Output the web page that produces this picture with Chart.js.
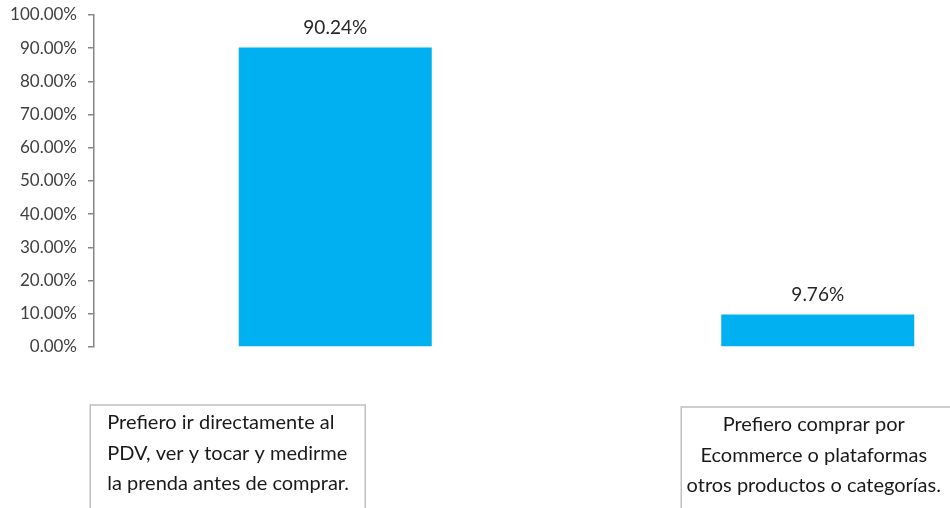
<!DOCTYPE html>
<html>
<head>
<meta charset="utf-8">
<script src="https://cdn.jsdelivr.net/npm/chart.js@4.4.0/dist/chart.umd.min.js"></script>
<style>
  html, body { margin: 0; padding: 0; background: #fff; }
  #wrap { width: 950px; height: 508px; overflow: hidden; position: relative; }
  #holder { width: 1070px; height: 508px; position: absolute; left: 0; top: 0; }
</style>
</head>
<body>
<div id="wrap"><div id="holder"><canvas id="myChart"></canvas></div></div>
<script>
// chart data
const categories = [
    ['Prefiero ir directamente al', 'PDV, ver y tocar y medirme', 'la prenda antes de comprar.'],
    ['Prefiero comprar por', 'Ecommerce o plataformas', 'otros productos o categorías.']
];
const shares = [0.9024, 0.0976];
const yTicks = [0, 0.1, 0.2, 0.3, 0.4, 0.5, 0.6, 0.7, 0.8, 0.9, 1.0];

const FONT = 'Lato, "Open Sans", sans-serif';

function pct(v) {
    return (v * 100).toFixed(2) + '%';
}

// value labels above each bar
const valueLabels = {
    id: 'valueLabels',
    afterDatasetsDraw(chart) {
        const ctx = chart.ctx;
        const meta = chart.getDatasetMeta(0);
        ctx.save();
        ctx.font = '19px ' + FONT;
        ctx.fillStyle = '#262626';
        ctx.textAlign = 'center';
        ctx.textBaseline = 'middle';
        meta.data.forEach((bar, i) => {
            ctx.fillText(pct(shares[i]), bar.x, bar.y - 20);
        });
        ctx.restore();
    }
};

// boxed category labels under the axis
const boxLabels = {
    id: 'boxLabels',
    afterDraw(chart) {
        const ctx = chart.ctx;
        const xs = chart.scales.x;
        // per-box placement relative to its category
        const boxes = [
            { dx: -245, w: 275, top: 405, align: 'left', tx: -228 },
            { dx: -136.5, w: 400, top: 407, align: 'center', tx: -4 }
        ];
        ctx.save();
        ctx.font = '20px ' + FONT;
        ctx.fillStyle = '#1a1a1a';
        ctx.textBaseline = 'middle';
        categories.forEach((lines, i) => {
            const cx = xs.getPixelForTick(i);
            const b = boxes[i];
            ctx.strokeStyle = '#bfbfbf';
            ctx.lineWidth = 1.5;
            ctx.strokeRect(cx + b.dx, b.top, b.w, 140);
            ctx.textAlign = b.align;
            lines.forEach((line, j) => {
                ctx.fillText(line, cx + b.tx, b.top + 18 + j * 30.5);
            });
        });
        ctx.restore();
    }
};

const ctx = document.getElementById('myChart').getContext('2d');
new Chart(ctx, {
    type: 'bar',
    data: {
        labels: categories,
        datasets: [{
            data: shares,
            backgroundColor: '#00B0F0',
            borderWidth: 0,
            categoryPercentage: 1,
            barPercentage: 0.4
        }]
    },
    options: {
        responsive: true,
        maintainAspectRatio: false,
        animation: false,
        layout: { padding: { top: 15, right: 11, bottom: 161, left: 0 } },
        scales: {
            x: {
                ticks: { display: false },
                grid: { display: false },
                border: { display: false },
                afterFit(scale) { scale.height = 0; }
            },
            y: {
                min: 0,
                max: 1,
                afterBuildTicks(scale) {
                    scale.ticks = yTicks.map(v => ({ value: v }));
                },
                afterFit(scale) {
                    scale.width = 94;
                    scale.paddingTop = 0;
                    scale.paddingBottom = 0;
                },
                ticks: {
                    callback: v => pct(v),
                    color: '#404040',
                    font: { family: FONT, size: 17 },
                    padding: 11
                },
                grid: {
                    drawOnChartArea: false,
                    drawTicks: true,
                    tickLength: 6,
                    color: '#868686',
                    lineWidth: 1.5
                },
                border: { display: true, color: '#868686', width: 1.5 }
            }
        },
        plugins: {
            legend: { display: false },
            tooltip: { enabled: false }
        }
    },
    plugins: [valueLabels, boxLabels]
});
</script>
</body>
</html>
